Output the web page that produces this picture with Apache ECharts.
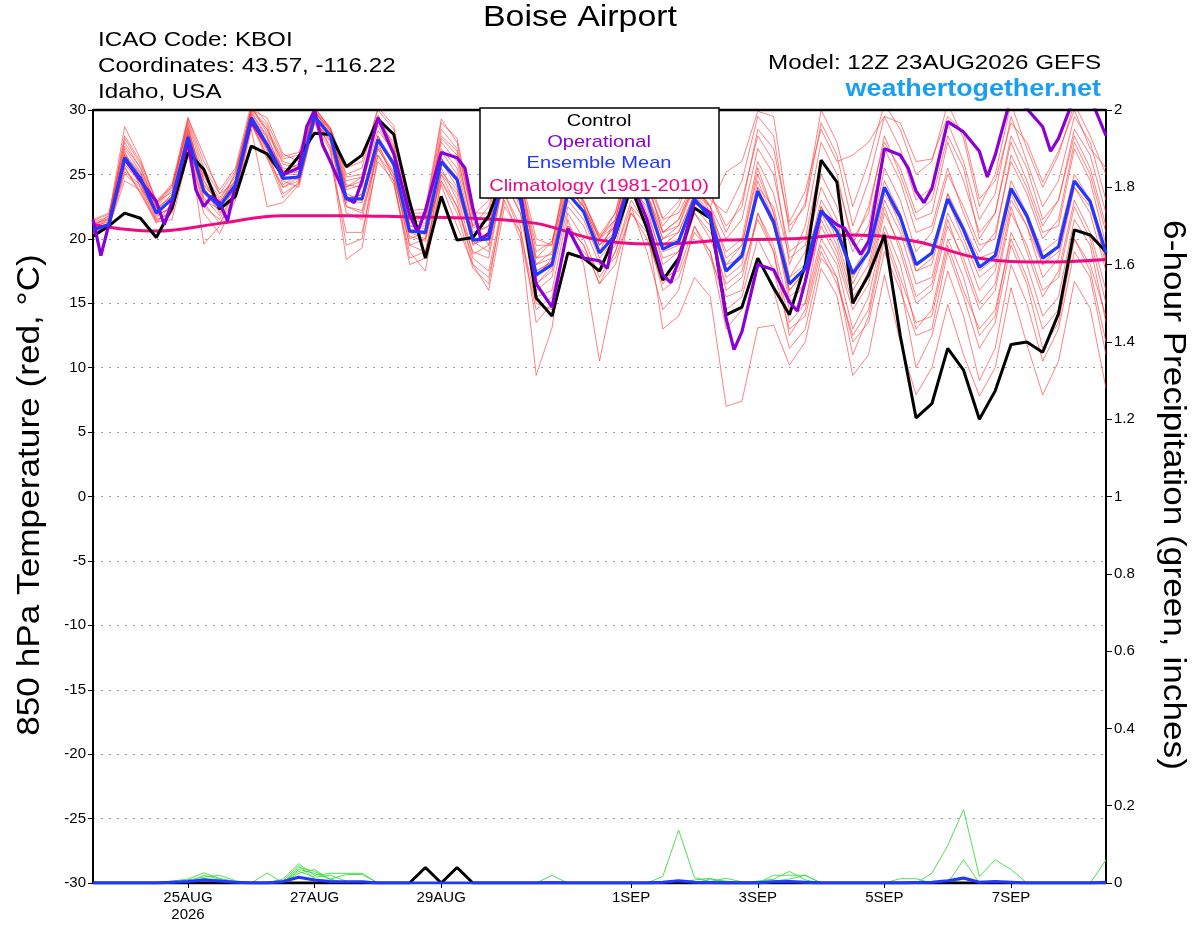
<!DOCTYPE html>
<html>
<head>
<meta charset="utf-8">
<script src="https://cdn.jsdelivr.net/npm/echarts@6/dist/echarts.min.js"></script>
<style>
html, body { margin: 0; padding: 0; background: #fff; }
#main { width: 1200px; height: 927px; }
</style>
</head>
<body>
<div id="main"></div>
<script>
// hours since 12Z 23AUG2026, 6-hourly ensemble output
var stepHours = 6;
var tickHours = [36, 84, 132, 204, 252, 300, 348];
var tickLabels = ['25AUG\n2026', '27AUG', '29AUG', '1SEP', '3SEP', '5SEP', '7SEP'];

var ensMean = [20.7,21.1,26.3,24.7,22.0,23.1,27.9,23.7,22.5,24.2,29.4,27.3,24.7,24.8,29.5,28.0,23.1,23.1,27.7,25.8,20.6,20.5,26.0,24.6,19.9,20.0,25.5,23.0,17.2,18.0,23.5,22.1,18.9,20.3,25.0,23.0,19.2,19.8,23.1,21.6,17.5,18.7,23.7,21.3,16.5,17.7,22.2,20.6,17.3,19.0,24.0,21.7,18.0,18.9,23.1,20.7,17.8,18.7,23.9,21.8,18.5,19.4,24.5,22.9,18.9];
var control = [20.2,21.0,22.0,21.6,20.1,22.4,26.7,25.4,22.3,23.3,27.2,26.6,24.9,26.4,28.2,28.1,25.6,26.5,29.3,28.1,22.9,18.5,23.3,19.9,20.1,21.8,25.0,23.5,15.4,14.0,18.9,18.5,17.5,20.3,24.0,20.8,16.8,18.5,22.4,21.6,14.1,14.7,18.5,16.2,14.1,18.0,26.1,24.4,15.0,17.2,20.3,12.5,6.1,7.2,11.5,9.8,6.0,8.2,11.8,12.0,11.2,14.2,20.7,20.3,19.0];
// operational run has some 3-hourly points
var operational = [[0,21.5],[3,18.7],[6,21.1],[12,26.2],[18,24.5],[24,22.9],[27,21.1],[30,22.9],[36,27.6],[39,23.8],[42,22.5],[45,23.3],[48,22.8],[51,21.4],[54,24.2],[60,29.1],[66,27.3],[72,25.0],[78,25.5],[81,28.7],[84,30.0],[87,27.3],[90,26.0],[96,23.2],[99,22.8],[102,24.5],[108,29.4],[114,26.6],[120,21.9],[123,20.5],[126,22.2],[132,26.7],[138,26.3],[141,25.5],[144,22.4],[147,20.0],[150,20.4],[156,25.0],[162,23.5],[168,16.5],[174,14.7],[180,20.8],[186,18.5],[192,18.3],[195,17.7],[198,21.0],[204,24.5],[210,21.5],[216,17.2],[219,16.6],[222,18.3],[228,22.9],[234,22.0],[240,13.8],[243,11.4],[246,12.8],[252,18.0],[258,17.6],[264,15.1],[267,14.4],[270,16.7],[276,22.1],[282,21.1],[285,20.8],[288,19.8],[291,18.8],[294,19.8],[300,27.0],[306,26.5],[309,25.5],[312,23.7],[315,22.8],[318,23.9],[324,29.1],[330,28.3],[336,26.8],[339,24.8],[342,26.5],[348,31.0],[354,30.1],[360,28.7],[363,26.8],[366,27.8],[372,31.0],[378,31.0],[384,28.0]];
// climatology, one value per day
var climStepHours = 24;
var climatology = [21.1,20.6,21.2,21.8,21.8,21.7,21.6,21.2,19.9,19.6,19.9,20.0,20.3,19.8,18.5,18.2,18.4];

var member01 = [21.2,21.5,27.5,25.5,22.5,23.8,29.0,25.0,23.2,24.8,30.2,28.5,25.8,25.5,30.0,28.4,24.5,24.8,29.0,27.5,21.5,21.8,27.8,26.5,21.0,22.5,27.0,24.5,19.5,19.5,25.5,22.8,20.2,21.5,26.5,24.0,21.0,22.5,25.5,23.0,22.0,24.5,29.5,28.0,20.5,22.8,30.0,27.5,22.5,26.0,30.5,28.5,25.0,26.0,30.5,27.8,22.5,25.0,30.5,27.0,24.0,26.5,30.5,28.0,25.0];
var member02 = [20.5,20.9,25.0,24.0,21.5,22.0,27.0,22.5,21.5,23.8,29.0,26.5,24.0,24.5,29.2,27.5,22.0,21.5,27.0,25.0,19.5,19.0,25.0,22.5,18.5,17.5,23.5,21.0,13.5,15.0,21.0,19.5,16.5,18.0,22.0,20.5,16.0,17.0,20.5,19.0,13.0,14.5,18.5,16.0,11.5,13.0,18.5,17.0,12.0,13.5,19.0,16.0,12.5,13.0,19.0,15.5,11.5,13.5,19.5,16.5,11.5,13.5,20.0,17.5,12.0];
var member03 = [21.0,21.8,28.7,26.2,22.8,24.3,29.4,26.5,23.5,25.3,30.0,29.4,26.6,26.0,29.8,28.6,25.5,26.0,30.0,28.5,22.2,22.3,29.3,27.5,21.5,19.5,26.5,24.0,18.5,19.8,24.0,22.5,19.5,21.0,26.0,24.5,21.5,22.0,24.5,22.5,18.5,19.5,25.0,22.0,17.0,19.0,24.0,21.5,16.5,19.0,25.5,23.0,19.0,20.5,25.0,22.5,19.5,20.0,26.5,24.0,20.5,21.0,27.0,24.5,19.5];
var member04 = [20.8,21.2,26.0,24.5,21.8,22.5,28.0,19.6,21.0,24.0,29.2,26.8,23.5,24.3,29.5,27.0,19.5,20.0,27.5,24.5,18.0,18.5,25.5,23.0,18.0,16.0,22.5,20.5,9.4,13.1,21.5,18.0,10.5,16.5,22.5,19.0,14.5,16.0,21.0,18.5,15.5,16.0,22.0,19.5,14.5,15.0,21.5,19.0,15.0,17.5,23.0,20.5,16.5,17.0,22.0,19.5,16.0,17.5,23.0,21.0,17.0,18.5,24.0,22.0,17.5];
var member05 = [20.6,21.0,26.5,25.0,22.2,23.5,28.5,24.5,22.8,24.5,29.8,28.0,25.0,25.0,29.6,28.2,23.5,23.0,28.0,26.0,20.5,20.0,26.0,24.0,19.5,20.5,24.5,22.0,15.5,16.0,22.0,20.0,17.0,19.0,22.5,21.0,13.0,14.0,17.0,15.5,7.0,7.4,13.1,13.3,10.2,12.0,17.7,15.6,9.4,11.0,17.2,12.0,7.9,10.0,14.9,11.0,7.8,10.0,16.2,11.8,7.9,10.5,16.7,14.6,8.4];
var member06 = [21.4,21.9,27.0,25.2,22.6,24.0,28.8,24.0,22.0,24.0,29.6,27.5,25.5,25.2,30.0,28.0,24.0,24.5,29.5,27.0,21.0,21.0,27.0,25.5,20.5,21.0,26.0,23.5,17.0,18.5,24.5,23.0,20.0,21.5,26.5,24.5,20.5,21.0,24.0,22.5,20.0,21.5,27.0,25.0,19.0,20.0,26.0,24.5,20.0,22.0,28.0,25.0,21.5,22.0,27.5,24.5,20.5,22.0,28.0,25.5,21.5,23.0,28.5,26.5,22.0];
var member07 = [20.4,20.8,25.5,23.5,21.2,22.8,27.5,23.0,22.3,23.5,28.8,27.0,24.5,24.0,29.0,27.8,22.5,22.0,26.5,24.8,20.0,20.5,24.5,22.5,19.0,18.5,25.0,22.5,16.0,17.0,22.5,21.0,18.0,19.5,24.0,22.5,18.0,19.0,22.5,21.0,16.0,17.0,22.0,19.0,13.5,15.0,20.0,18.0,13.0,15.5,21.0,18.0,13.0,14.5,20.0,17.0,12.5,14.0,20.5,18.0,14.0,15.5,21.5,19.5,13.5];
var member08 = [21.0,21.3,26.8,24.0,22.0,23.0,28.2,24.8,23.0,25.0,30.0,28.8,25.2,25.8,30.2,28.5,24.8,25.0,28.8,26.5,21.8,21.5,27.5,26.0,21.0,21.5,27.0,25.0,18.0,19.0,25.0,22.0,19.5,20.5,25.5,23.5,20.0,20.5,23.5,22.0,19.0,20.0,26.0,23.5,18.5,19.5,25.0,22.5,19.0,21.0,27.0,24.5,20.5,21.0,25.5,22.0,19.0,20.5,26.0,23.5,20.0,21.5,27.5,25.0,20.5];
var member09 = [20.9,21.4,25.8,24.3,21.6,23.2,27.8,23.2,21.8,24.2,29.4,27.0,24.8,24.6,29.4,27.6,23.0,22.8,27.2,25.2,20.2,19.8,25.2,23.8,19.8,19.0,24.8,22.8,16.5,17.5,23.0,21.5,18.5,20.0,25.0,23.0,19.5,20.5,23.5,22.5,17.5,18.5,24.0,22.5,17.0,18.0,23.0,21.0,17.5,19.5,24.5,22.0,18.0,19.0,23.5,21.0,18.5,19.0,24.5,22.0,19.0,20.0,25.0,23.0,18.0];
var member10 = [20.6,21.0,26.2,24.8,22.4,23.3,28.0,24.2,22.8,24.6,29.5,27.8,24.2,25.0,29.3,28.2,22.8,23.5,28.0,25.5,20.8,20.3,26.3,24.5,19.6,20.0,25.5,22.8,17.5,18.2,23.8,22.0,19.0,20.0,25.0,22.0,18.5,19.0,22.0,20.0,16.5,17.5,21.5,19.0,12.5,14.5,19.5,17.0,11.0,14.0,20.0,16.5,10.0,12.5,17.5,14.0,9.0,11.5,18.0,15.0,10.5,13.0,19.0,17.0,11.0];
var member11 = [21.1,21.6,27.8,25.8,22.9,23.6,29.2,25.5,23.5,24.4,30.3,28.2,26.0,25.6,30.1,28.6,24.2,24.0,29.6,27.2,21.2,21.8,28.5,27.0,22.0,22.0,27.5,24.5,19.0,19.8,25.0,22.9,20.3,22.0,26.5,25.0,21.6,22.9,25.5,23.5,21.0,22.5,28.5,27.0,21.0,22.5,29.0,26.5,21.0,24.5,29.5,27.0,23.0,24.0,29.0,26.0,21.5,23.5,29.5,26.0,22.5,24.5,29.5,27.5,23.0];
var member12 = [20.5,20.9,24.5,23.8,21.3,21.5,26.5,22.0,20.4,23.0,28.5,22.5,22.8,24.2,29.0,26.0,20.5,20.5,26.0,24.5,18.5,19.0,24.2,21.0,18.0,17.0,23.0,20.0,14.5,15.5,20.5,19.0,17.5,18.5,22.0,20.0,16.5,18.0,22.0,20.5,18.0,19.5,25.5,22.0,15.5,16.5,21.0,18.5,14.5,16.5,22.0,19.5,15.5,16.5,21.5,18.0,14.5,16.0,22.0,19.5,16.0,17.0,22.5,20.0,15.0];
var member13 = [21.5,22.0,27.2,25.5,22.7,24.2,28.6,24.5,22.5,25.2,29.9,28.5,26.2,26.5,29.9,28.4,24.0,24.8,29.2,28.2,21.5,21.2,28.0,26.8,20.8,21.5,26.5,24.0,18.5,18.8,24.0,22.5,19.5,21.0,25.5,23.5,19.5,20.0,23.5,21.5,17.0,18.0,23.5,21.0,16.0,17.5,22.5,20.0,16.0,18.0,23.5,21.5,17.5,18.0,23.0,20.0,17.0,18.0,23.5,21.0,18.0,19.0,24.0,22.5,18.5];
var member14 = [20.7,21.1,25.2,24.2,21.9,22.3,27.2,23.5,22.2,23.5,28.9,26.2,24.0,24.8,29.2,27.2,22.5,22.2,27.0,25.0,19.5,20.0,25.0,23.5,18.8,19.5,24.5,22.0,16.5,17.8,23.5,22.0,19.0,21.5,26.0,23.5,20.0,21.0,24.5,23.5,20.5,23.0,28.0,26.0,18.0,21.0,27.5,25.0,19.5,22.5,27.5,25.5,22.0,23.0,28.0,25.5,20.0,22.0,27.5,24.5,21.0,23.0,28.0,25.5,21.0];
var member15 = [21.3,21.7,28.0,26.0,23.0,24.0,29.4,26.0,23.8,25.5,30.5,29.0,26.4,26.7,30.2,28.6,25.0,25.5,30.2,28.8,22.0,22.0,29.0,27.8,21.8,23.0,28.0,25.0,20.0,19.5,26.0,22.5,20.0,22.0,27.0,24.5,20.5,21.5,24.5,22.0,18.0,18.5,24.5,21.5,15.0,16.5,22.0,19.5,15.5,17.0,22.5,19.0,15.0,16.0,21.0,18.5,15.0,16.5,22.5,19.0,15.5,17.5,23.0,20.5,16.0];
var member16 = [20.4,20.8,25.6,23.6,21.4,22.2,27.0,22.8,21.2,23.2,29.0,26.4,23.2,24.4,29.1,26.8,18.4,19.3,26.5,24.2,19.0,17.5,24.5,22.0,17.7,16.5,23.5,20.5,15.0,14.5,21.0,19.5,16.5,19.0,23.0,21.0,17.0,17.5,21.0,19.0,14.5,15.5,20.0,17.5,13.0,14.0,19.0,16.5,12.5,14.5,20.5,17.0,13.5,14.0,19.5,16.0,13.0,14.5,20.0,17.0,13.0,14.5,20.0,18.0,14.0];
var member17 = [21.0,21.5,26.6,25.1,22.3,23.3,28.3,24.1,22.9,24.3,29.7,27.9,25.3,25.1,29.8,28.3,23.8,24.2,28.4,26.8,21.0,20.8,26.8,25.0,20.3,21.0,26.0,23.5,18.0,18.5,24.0,22.5,20.0,21.0,25.5,23.5,20.5,21.5,24.0,22.5,25.2,26.0,29.9,29.5,21.3,23.7,28.5,26.0,26.5,27.5,29.5,29.0,26.0,26.2,29.5,28.3,23.1,24.5,29.0,27.5,24.4,26.8,30.0,27.0,25.5];
var member18 = [20.8,21.2,26.4,24.6,22.1,23.0,28.1,23.6,22.6,24.1,29.3,27.4,24.6,24.9,29.6,28.0,23.2,23.4,27.8,26.0,20.6,20.6,26.2,24.8,20.0,20.2,25.6,23.0,17.5,18.2,23.5,22.2,19.0,20.5,25.0,23.0,19.0,19.5,23.0,21.5,17.5,19.0,24.0,21.0,16.0,17.5,22.5,20.5,17.0,19.0,24.0,21.0,17.5,18.5,23.5,20.5,17.5,18.5,24.0,21.5,18.0,19.5,24.5,23.0,18.5];
var members = [member01, member02, member03, member04, member05, member06, member07, member08, member09,
               member10, member11, member12, member13, member14, member15, member16, member17, member18];

// 6-hour precipitation (inches)
var precipControl = [0,0,0,0,0,0,0,0,0,0, 0,0,0,0,0,0,0,0,0,0, 0,0.04,0,0.04,0,0,0,0,0,0, 0,0,0,0,0,0,0,0,0,0, 0,0,0,0,0,0,0,0,0,0, 0,0,0,0,0,0,0,0,0,0, 0,0,0,0,0];
var precipMean = [0,0,0,0,0,0.002,0.004,0.008,0.005,0.002, 0,0,0.004,0.015,0.008,0.004,0.003,0.003,0,0, 0,0,0,0,0,0,0,0,0,0.001, 0,0,0,0,0,0,0.002,0.006,0.002,0.001, 0,0,0,0.003,0.004,0.002,0,0,0,0, 0,0,0.001,0.002,0.006,0.013,0.002,0.004,0.002,0, 0,0,0,0,0.002];
var precip01 = [0,0,0,0,0,0.005,0.01,0.026,0.012,0.004, 0,0,0.01,0.05,0.02,0.025,0.025,0.025,0,0, 0,0,0,0,0,0,0,0,0,0, 0,0,0,0,0,0,0.017,0.137,0.014,0.004, 0.012,0.003,0,0,0,0,0,0,0,0, 0,0,0,0.025,0.097,0.19,0.017,0.06,0.035,0, 0,0,0,0,0.06];
var precip02 = [0,0,0,0,0,0,0.008,0.015,0.02,0.006, 0,0,0,0.04,0.03,0.01,0.022,0.022,0,0, 0,0,0,0,0,0,0,0,0,0, 0,0,0,0,0,0,0,0,0,0, 0,0,0,0.02,0.02,0.02,0,0,0,0, 0,0,0,0,0,0.06,0,0,0,0, 0,0,0,0,0];
var precip03 = [0,0,0,0,0,0,0,0.02,0.01,0, 0,0.026,0,0.035,0.025,0.01,0,0,0,0, 0,0,0,0,0,0,0,0,0,0, 0,0,0,0,0,0,0,0,0,0.01, 0.005,0,0.004,0.01,0.03,0.008,0,0,0,0, 0,0.011,0.011,0,0,0,0,0,0,0, 0,0,0,0,0];
var precip04 = [0,0,0,0,0,0,0.004,0.01,0,0, 0,0,0,0.03,0.015,0.02,0.005,0,0,0, 0,0,0,0,0,0,0,0,0,0.02, 0,0,0,0,0,0,0,0,0.008,0.012, 0,0,0,0.005,0.01,0.02,0,0,0,0, 0,0,0,0,0,0,0,0,0,0, 0,0,0,0,0];
var precip05 = [0,0,0,0,0,0.003,0,0.012,0.008,0, 0,0,0.005,0.045,0.01,0,0,0.005,0,0, 0,0,0,0,0,0,0,0,0,0, 0,0,0,0,0,0,0,0,0,0, 0,0,0.005,0.008,0,0,0,0,0,0, 0,0,0,0,0,0.01,0,0,0,0, 0,0,0,0,0];
var precip06 = [0,0,0,0,0,0,0,0,0,0, 0,0,0,0.025,0.035,0.008,0,0,0,0, 0,0,0,0,0,0,0,0,0,0, 0,0,0,0,0,0,0,0,0,0, 0,0,0,0,0.005,0,0,0,0,0, 0,0,0,0,0,0,0,0.005,0,0, 0,0,0,0,0];
var precipMembers = [precip01, precip02, precip03, precip04, precip05, precip06];

var font = '"Liberation Sans", Arial, sans-serif';

function toPairs(values, step) {
    return values.map(function (v, i) { return [i * step, v]; });
}

function lineSeries(data, color, width, axisIndex, smooth) {
    return {
        type: 'line',
        data: data,
        yAxisIndex: axisIndex || 0,
        symbol: 'none',
        smooth: smooth || false,
        silent: true,
        lineStyle: { color: color, width: width },
        animation: false
    };
}

// text drawn a bit wider than Liberation Sans, like the original Helvetica rendering
function label(text, x, y, align, fontSpec, color, sx, rot) {
    return {
        type: 'text', z: 101,
        x: x, y: y, rotation: rot || 0, scaleX: sx || 1,
        style: { text: text, x: 0, y: 0, textAlign: align, textVerticalAlign: 'middle', font: fontSpec, fill: color }
    };
}

var series = [];
members.forEach(function (m) {
    series.push(lineSeries(toPairs(m, stepHours), 'rgba(255,60,60,0.8)', 0.8));
});
precipMembers.forEach(function (p) {
    series.push(lineSeries(toPairs(p, stepHours), '#3ddc3d', 0.9, 1));
});
series.push(lineSeries(toPairs(climatology, climStepHours), '#ee0a82', 3, 0, 0.4));
series.push(lineSeries(toPairs(control, stepHours), '#000000', 3));
series.push(lineSeries(operational, '#8a00d6', 3.2));
series.push(lineSeries(toPairs(ensMean, stepHours), '#2038ff', 3.2));
series.push(lineSeries(toPairs(precipControl, stepHours), '#000000', 3, 1));
series.push(lineSeries(toPairs(precipMean, stepHours), '#2038ff', 3, 1));

var myChart = echarts.init(document.getElementById('main'));

var option = {
    backgroundColor: '#fff',
    animation: false,
    grid: {
        left: 93, right: 94, top: 110, bottom: 44,
        show: true, borderColor: '#000', borderWidth: 2,
        backgroundColor: 'transparent'
    },
    xAxis: {
        type: 'value',
        min: 0,
        max: 384,
        axisLine: { show: true, onZero: false, lineStyle: { color: '#000', width: 2 } },
        axisTick: { show: true, customValues: tickHours, length: 5, lineStyle: { color: '#000' } },
        axisLabel: {
            customValues: tickHours,
            color: '#000', fontSize: 15, fontFamily: font, lineHeight: 17, margin: 6,
            formatter: function (v) {
                var k = tickHours.indexOf(v);
                return k >= 0 ? tickLabels[k] : '';
            }
        },
        splitLine: { show: false }
    },
    yAxis: [{
        type: 'value',
        min: -30, max: 30, interval: 5,
        axisLine: { show: true, onZero: false, lineStyle: { color: '#000', width: 2 } },
        axisTick: { show: true, length: 5, lineStyle: { color: '#000' } },
        axisLabel: { color: '#000', fontSize: 15, fontFamily: font, margin: 7 },
        splitLine: { show: true, showMinLine: false, showMaxLine: false, lineStyle: { color: '#a0a0a0', width: 1, type: [2, 6] } }
    }, {
        type: 'value',
        position: 'right',
        min: 0, max: 2, interval: 0.2,
        axisLine: { show: true, onZero: false, lineStyle: { color: '#000', width: 2 } },
        axisTick: { show: true, length: 6, lineStyle: { color: '#000' } },
        axisLabel: { color: '#000', fontSize: 15, fontFamily: font, margin: 8 },
        splitLine: { show: false }
    }],
    graphic: [
        label('Boise Airport', 580, 18, 'center', '30px ' + font, '#000', 1.13),
        label('ICAO Code: KBOI', 98, 40, 'left', '21px ' + font, '#000', 1.15),
        label('Coordinates: 43.57, -116.22', 98, 66, 'left', '21px ' + font, '#000', 1.15),
        label('Idaho, USA', 98, 92, 'left', '21px ' + font, '#000', 1.15),
        label('Model: 12Z 23AUG2026 GEFS', 1101, 63, 'right', '21px ' + font, '#000', 1.15),
        label('weathertogether.net', 1101, 89, 'right', 'bold 24px ' + font, '#1a9ef0', 1.12),
        label('850 hPa Temperature (red, °C)', 30, 495, 'center', '32px ' + font, '#000', 1.1, Math.PI / 2),
        label('6-hour Precipitation (green, inches)', 1173, 495, 'center', '32px ' + font, '#000', 1.1, -Math.PI / 2),
        { type: 'line', z: 100, shape: { x1: 93, y1: 110, x2: 1106, y2: 110 }, style: { stroke: '#000', lineWidth: 2.5 } },
        { type: 'rect', z: 100, shape: { x: 480, y: 108, width: 239, height: 90 }, style: { fill: '#fff', stroke: '#000', lineWidth: 1.5 } },
        label('Control', 599, 121, 'center', '17px ' + font, '#000', 1.18),
        label('Operational', 599, 142, 'center', '17px ' + font, '#8a00d6', 1.18),
        label('Ensemble Mean', 599, 163, 'center', '17px ' + font, '#2038ff', 1.18),
        label('Climatology (1981-2010)', 599, 186, 'center', '17px ' + font, '#ee0a82', 1.18)
    ],
    series: series
};

myChart.setOption(option);
</script>
</body>
</html>
